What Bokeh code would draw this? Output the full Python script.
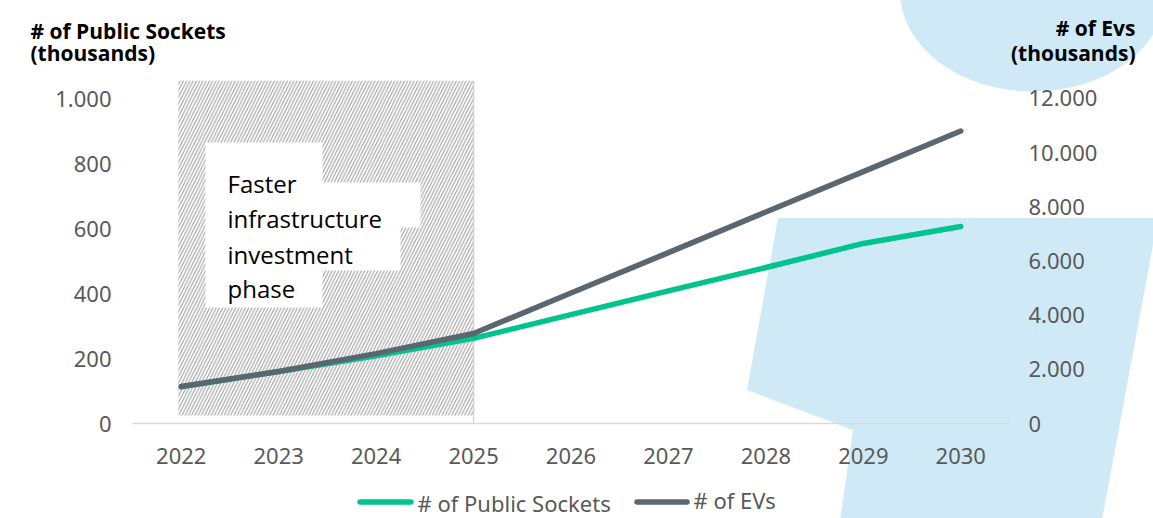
from urllib.parse import quote
from bokeh.plotting import figure
from bokeh.models import (Range1d, LinearAxis, FixedTicker, BoxAnnotation, Label, Span,
                          Title, InlineStyleSheet)
from bokeh.embed import file_html
from bokeh.resources import INLINE

# ---------------- data ----------------
years = [2022, 2023, 2024, 2025, 2026, 2027, 2028, 2029, 2030]
year_labels = [str(y) for y in years]
sockets = [113, 160, 208, 262, 335, 408, 480, 554, 606]          # thousands
evs = [1366, 1920, 2580, 3323, 4820, 6310, 7810, 9300, 10800]     # thousands

left_ticks = [0, 200, 400, 600, 800, 1000]
left_tick_labels = ["0", "200", "400", "600", "800", "1.000"]
right_ticks = [0, 2000, 4000, 6000, 8000, 10000, 12000]
right_tick_labels = ["0", "2.000", "4.000", "6.000", "8.000", "10.000", "12.000"]

series_names = ["# of Public Sockets", "# of EVs"]
left_title = ["# of Public Sockets", "(thousands)"]
right_title = ["# of Evs", "(thousands)"]
phase_text = ["Faster", "infrastructure", "investment", "phase"]
phase_start, phase_end = 2022, 2025

# ---------------- styling ----------------
GREEN = "#00C48C"
GREY = "#5B6770"
TICK = "#595959"
BLUE = "#cfeaf6"
TICK_FONT = "Noto Sans"
TITLE_FONT = "Open Sans"

W, H = 1153, 518
y_left_end = 1055.4
y_right_end = 12664.6

# page decoration: light-blue background shapes and the legend key swatches
bg_svg = (
    f'<svg xmlns="http://www.w3.org/2000/svg" width="{W}" height="{H}">'
    f'<ellipse cx="1033" cy="-8.5" rx="133" ry="100" fill="{BLUE}"/>'
    f'<polygon points="778,218 1158,218 1102,520 840,520 853,430 747,390" fill="{BLUE}"/>'
    f'<line x1="360" y1="502" x2="411" y2="502" stroke="{GREEN}" stroke-width="5.5" stroke-linecap="round"/>'
    f'<line x1="637" y1="502" x2="687" y2="502" stroke="{GREY}" stroke-width="5.5" stroke-linecap="round"/>'
    '</svg>'
)
css = InlineStyleSheet(css=(
    ':host { background-color: white; '
    f'background-image: url("data:image/svg+xml;charset=utf-8,{quote(bg_svg)}"); '
    'background-repeat: no-repeat; background-position: 0 0; }'
))

p = figure(width=W, height=H, output_backend="svg", toolbar_location=None,
           x_range=Range1d(2021.5, 2030.5), y_range=Range1d(0, y_left_end),
           min_border_left=132, min_border_right=144,
           min_border_top=80, min_border_bottom=95,
           x_axis_location="below", y_axis_location="left",
           stylesheets=[css])
p.background_fill_color = None
p.border_fill_color = None
p.outline_line_color = None
p.xgrid.visible = False
p.ygrid.visible = False

# hatched phase region
p.add_layout(BoxAnnotation(left=phase_start - 0.03, right=phase_end, bottom=25, top=y_left_end,
                           fill_color="white", fill_alpha=1, line_color=None,
                           hatch_pattern="/", hatch_color="#9a9a9a", hatch_scale=6.5,
                           hatch_weight=1, hatch_alpha=1, level="underlay"))
p.add_layout(Span(location=phase_end, dimension="height", line_color="#d4d4d4",
                  line_width=1.5, level="underlay"))

# white text background
for (l, r, t, b) in [(205, 322, 142, 307), (205, 420, 182, 227), (205, 400, 227, 270)]:
    p.add_layout(BoxAnnotation(left=l, right=r, top=t, bottom=b,
                               left_units="canvas", right_units="canvas",
                               top_units="canvas", bottom_units="canvas",
                               fill_color="white", fill_alpha=1, line_color=None,
                               level="underlay"))

# ---------------- axes ----------------
p.extra_y_ranges = {"ev": Range1d(0, y_right_end)}
right_axis = LinearAxis(y_range_name="ev")
p.add_layout(right_axis, "right")

xa = p.xaxis[0]
xa.ticker = FixedTicker(ticks=years)
xa.major_label_overrides = dict(zip(years, year_labels))
xa.axis_line_color = "#d9d9d9"
xa.axis_line_width = 1.5
xa.major_tick_line_color = None
xa.minor_tick_line_color = None
xa.major_label_standoff = 18
xa.major_label_text_font = TICK_FONT
xa.major_label_text_font_size = "22px"
xa.major_label_text_color = TICK

ya = p.yaxis[0]
ya.ticker = FixedTicker(ticks=left_ticks)
ya.major_label_overrides = dict(zip(left_ticks, left_tick_labels))
right_axis.ticker = FixedTicker(ticks=right_ticks)
right_axis.major_label_overrides = dict(zip(right_ticks, right_tick_labels))
for ax, so in [(ya, 15), (right_axis, 13)]:
    ax.axis_line_color = None
    ax.major_tick_line_color = None
    ax.minor_tick_line_color = None
    ax.major_label_standoff = so
    ax.major_label_text_font = TICK_FONT
    ax.major_label_text_font_size = "22px"
    ax.major_label_text_color = TICK

# ---------------- lines ----------------
p.line(years, sockets, line_color=GREEN, line_width=5.5, line_cap="round", line_join="round")
p.line(years, evs, y_range_name="ev", line_color=GREY, line_width=5.5,
       line_cap="round", line_join="round")

# ---------------- axis titles (top panel) ----------------
title_style = dict(text_font=TITLE_FONT, text_font_style="bold", text_font_size="21px",
                   text_color="black")
p.add_layout(Label(x=1135, y=27, x_units="canvas", y_units="canvas", text=right_title[0],
                   text_align="right", text_baseline="alphabetic", **title_style), "above")
p.add_layout(Title(text=left_title[1], align="left", vertical_align="middle", offset=-102,
                   standoff=-30, **title_style), "above")
p.add_layout(Title(text=right_title[1], align="right", vertical_align="middle", offset=-126,
                   standoff=-30, **title_style), "above")
p.add_layout(Label(x=30, y=30, x_units="canvas", y_units="canvas", text=left_title[0],
                   text_align="left", text_baseline="alphabetic", **title_style), "above")

# ---------------- legend texts (bottom panel) ----------------
legend_style = dict(text_font=TICK_FONT, text_font_style="normal", text_font_size="22px",
                    text_color=TICK)
p.add_layout(Label(x=417, y=502, x_units="canvas", y_units="canvas", text=series_names[0],
                   text_align="left", text_baseline="middle", **legend_style), "below")
p.add_layout(Title(text=series_names[1], align="left", vertical_align="middle",
                   offset=561, standoff=-25, **legend_style), "below")

# ---------------- annotation text ----------------
for i, t in enumerate(phase_text):
    p.add_layout(Label(x=227, y=[183, 218, 254, 288][i], x_units="canvas", y_units="canvas",
                       text=t, text_font=TITLE_FONT, text_font_size="24px",
                       text_align="left", text_baseline="alphabetic", text_color="black"))

open("out.html", "w").write(file_html(p, INLINE))
